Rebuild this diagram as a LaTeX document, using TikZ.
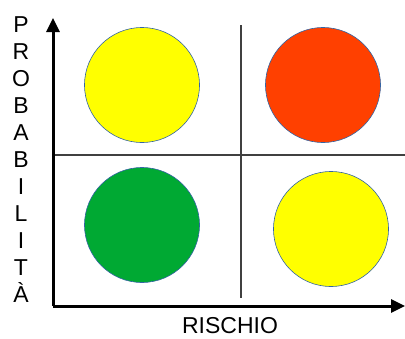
\documentclass[tikz,border=0pt]{standalone}
\usepackage{fontspec}
\setmainfont{Liberation Sans}
\usetikzlibrary{arrows.meta}
\definecolor{riskyellow}{HTML}{FFFF00}
\definecolor{riskred}{HTML}{FF4000}
\definecolor{riskgreen}{HTML}{00A933}
\definecolor{riskedge}{HTML}{3465A4}
\tikzset{
  riskdot/.style={circle, draw=riskedge, line width=0.6pt, minimum size=115pt, inner sep=0pt},
  axisline/.style={line width=3pt, -{Triangle[length=14pt,width=13pt]}},
  gridline/.style={line width=1.2pt, draw=black!75}
}
\begin{document}
\begin{tikzpicture}[x=1pt,y=-1pt]
    \useasboundingbox (0,0) rectangle (405,338);
    \coordinate (origin) at (53,306);
    \coordinate (ytip) at (53,18);
    \coordinate (xtip) at (405,306);
    \coordinate (midleft) at (53,155);
    \coordinate (midright) at (405,155);
    \coordinate (midtop) at (241,25);
    \coordinate (midbottom) at (241,298);
    \draw[gridline] (midleft) -- (midright);
    \draw[gridline] (midtop) -- (midbottom);
    \node[riskdot, fill=riskyellow] (lowrisk-highprob) at (142,85) {};
    \node[riskdot, fill=riskred] (highrisk-highprob) at (323,85) {};
    \node[riskdot, fill=riskgreen] (lowrisk-lowprob) at (142,225) {};
    \node[riskdot, fill=riskyellow] (highrisk-lowprob) at (331,229) {};
    \draw[axisline] (origin) -- (ytip);
    \draw[axisline] (origin) -- (xtip);
    \node[font=\fontsize{23}{26}\selectfont, anchor=base, inner sep=0pt] (xlabel) at (230,333) {RISCHIO};
    \foreach \letter [count=\i from 0] in {P,R,O,B,A,B,I,L,I,T,À}
        \node[font=\fontsize{23}{26}\selectfont, anchor=base, inner sep=0pt] (ylabel\i) at (21,32+27*\i) {\letter};
\end{tikzpicture}
\end{document}
